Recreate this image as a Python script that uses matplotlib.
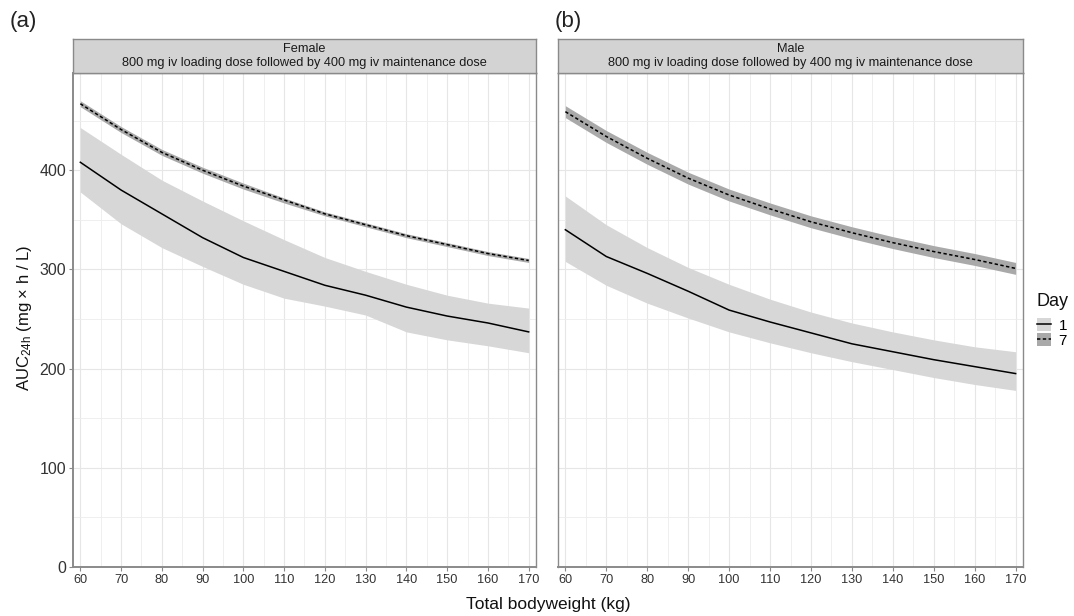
"""Two-panel AUC24h vs total bodyweight (female / male), day 1 and day 7."""
import matplotlib

matplotlib.use("Agg")
import matplotlib.pyplot as plt
from matplotlib.lines import Line2D
from matplotlib.patches import Patch
from matplotlib.ticker import MultipleLocator

plt.rcParams["font.family"] = ["Liberation Sans", "DejaVu Sans"]
plt.rcParams["mathtext.fontset"] = "custom"
plt.rcParams["mathtext.rm"] = "Liberation Sans"
plt.rcParams["mathtext.it"] = "Liberation Sans"

weight = [60, 70, 80, 90, 100, 110, 120, 130, 140, 150, 160, 170]

# Female
f_d1 = [408, 380, 356, 332, 312, 298, 284, 274, 262, 253, 246, 237]
f_d1_lo = [378, 346, 322, 303, 285, 271, 263, 254, 237, 229, 223, 216]
f_d1_hi = [443, 416, 390, 369, 349, 330, 312, 298, 285, 274, 266, 261]
f_d7 = [467, 441, 418, 400, 384, 370, 356, 345, 334, 325, 316, 309]
f_d7_lo = [464, 438, 415, 397, 381, 367, 354, 343, 332, 323, 314, 307]
f_d7_hi = [470, 444, 421, 403, 387, 372, 358, 347, 336, 327, 318, 311]

# Male
m_d1 = [340, 313, 296, 278, 259, 247, 236, 225, 217, 209, 202, 195]
m_d1_lo = [308, 284, 266, 251, 237, 226, 216, 207, 199, 191, 184, 178]
m_d1_hi = [374, 345, 322, 302, 285, 270, 257, 246, 237, 229, 222, 217]
m_d7 = [459, 434, 412, 392, 375, 361, 348, 337, 327, 318, 310, 301]
m_d7_lo = [453, 428, 406, 386, 369, 355, 342, 331, 321, 312, 304, 295]
m_d7_hi = [465, 440, 418, 398, 381, 367, 354, 343, 333, 324, 316, 307]

panels = [
    ("Female", (f_d1, f_d1_lo, f_d1_hi), (f_d7, f_d7_lo, f_d7_hi), "(a)"),
    ("Male", (m_d1, m_d1_lo, m_d1_hi), (m_d7, m_d7_lo, m_d7_hi), "(b)"),
]
regimen = "800 mg iv loading dose followed by 400 mg iv maintenance dose"

W, H = 1074, 616
FILL1 = "#d7d7d7"
FILL7 = "#a9a9a9"
SPINE = "#8a8a8a"
TXT = "#333333"
DASH = (0, (2.2, 1.6))

fig = plt.figure(figsize=(W / 100, H / 100), dpi=100)

lefts = [73, 558]
widths = [463, 465]
tag_x = [10, 555]
top_px, bot_px, strip_top = 73, 567, 39

for i, (sex, d1, d7, tag) in enumerate(panels):
    x0 = lefts[i] / W
    w = widths[i] / W
    ax = fig.add_axes([x0, 1 - bot_px / H, w, (bot_px - top_px) / H])
    ax.fill_between(weight, d1[1], d1[2], color=FILL1, lw=0, zorder=2)
    ax.fill_between(weight, d7[1], d7[2], color=FILL7, lw=0, zorder=2)
    ax.plot(weight, d1[0], color="black", lw=1.1, zorder=3)
    ax.plot(weight, d7[0], color="black", lw=1.1, ls=DASH, zorder=3)

    ax.set_xlim(58.2, 171.8)
    ax.set_ylim(0, 498)
    ax.xaxis.set_major_locator(MultipleLocator(10))
    ax.xaxis.set_minor_locator(MultipleLocator(5))
    ax.yaxis.set_major_locator(MultipleLocator(100))
    ax.yaxis.set_minor_locator(MultipleLocator(50))
    ax.grid(which="major", color="#e6e6e6", lw=0.8, zorder=0)
    ax.grid(which="minor", color="#ececec", lw=0.6, zorder=0)
    ax.set_axisbelow(True)
    for s in ax.spines.values():
        s.set_color(SPINE)
        s.set_linewidth(1.0)
    ax.spines["left"].set_linewidth(1.4 if i == 0 else 1.0)
    ax.spines["bottom"].set_linewidth(1.4)
    ax.tick_params(which="minor", length=0)
    ax.tick_params(axis="x", which="major", length=3, color=SPINE,
                   labelsize=9.2, labelcolor=TXT, pad=2)
    ax.tick_params(axis="y", which="major", length=3, color=SPINE,
                   labelsize=11.5, labelcolor=TXT, pad=2)
    if i == 1:
        ax.tick_params(axis="y", which="major", length=0, labelleft=False)

    sax = fig.add_axes([x0, 1 - top_px / H, w, (top_px - strip_top) / H])
    sax.set_facecolor("#d3d3d3")
    sax.set_xticks([])
    sax.set_yticks([])
    for s in sax.spines.values():
        s.set_color(SPINE)
        s.set_linewidth(1.0)
    sax.text(0.5, 0.5, f"{sex}\n{regimen}", ha="center", va="center",
             fontsize=9.2, color="#1a1a1a", linespacing=1.28,
             transform=sax.transAxes)

    fig.text(tag_x[i] / W, 1 - 22 / H, tag, fontsize=16,
             ha="left", va="center", color="#222222")

fig.text(25 / W, 1 - 318 / H, r"AUC$_{\mathregular{24h}}$ (mg × h / L)",
         rotation=90, ha="center", va="center", fontsize=12, color="#111111")
fig.text(548 / W, 1 - 604 / H, "Total bodyweight (kg)", ha="center",
         va="center", fontsize=12.5, color="#111111")

# legend: title drawn separately to get the wider gap above the keys
fig.text(1036 / W, 1 - 302 / H, "Day", ha="left", va="center",
         fontsize=13, color="#111111")
h1 = (Patch(facecolor=FILL1, edgecolor="none"),
      Line2D([], [], color="black", lw=1.1))
h7 = (Patch(facecolor=FILL7, edgecolor="none"),
      Line2D([], [], color="black", lw=1.1, ls=DASH))
fig.legend([h1, h7], ["1", "7"], loc="upper left",
           bbox_to_anchor=(1037 / W, 1 - 318 / H), frameon=False,
           fontsize=11, handlelength=0.9, handleheight=0.95,
           handletextpad=0.5, labelspacing=0.0, borderaxespad=0,
           borderpad=0)

fig.savefig("out.png", dpi=100)
